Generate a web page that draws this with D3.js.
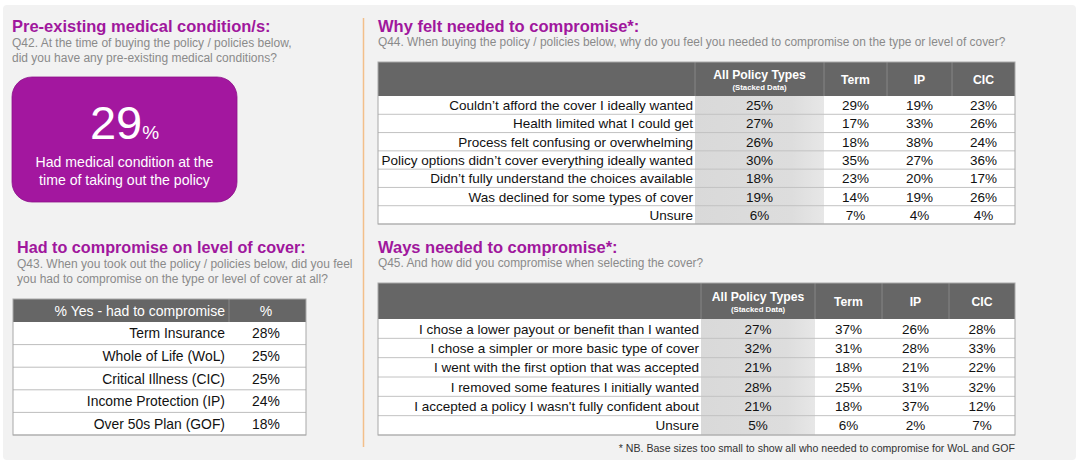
<!DOCTYPE html>
<html lang="en">
<head>
    <meta charset="UTF-8">
    <title>Compromise on cover</title>
    <script src="https://d3js.org/d3.v7.min.js"></script>
    <style>
        body { margin: 0; background: white; }
        svg { display: block; font-family: "Liberation Sans", Arial, sans-serif; }
        .title { fill: #a0179d; font-weight: bold; }
        .sub { fill: #8a8a8a; }
    </style>
</head>
<body>
<svg width="1080" height="466"></svg>
<script>
    // Q42
    var conditionPct = 29;

    // Q43
    var coverTypes = ["Term Insurance", "Whole of Life (WoL)", "Critical Illness (CIC)", "Income Protection (IP)", "Over 50s Plan (GOF)"];
    var coverPct = [28, 25, 25, 24, 18];

    // column headers for the right tables
    var columns = ["All Policy Types", "Term", "IP", "CIC"];

    // Q44
    var whyReasons = [
        "Couldn\u2019t afford the cover I ideally wanted",
        "Health limited what I could get",
        "Process felt confusing or overwhelming",
        "Policy options didn\u2019t cover everything ideally wanted",
        "Didn\u2019t fully understand the choices available",
        "Was declined for some types of cover",
        "Unsure"
    ];
    var whyAll  = [25, 27, 26, 30, 18, 19, 6];
    var whyTerm = [29, 17, 18, 35, 23, 14, 7];
    var whyIP   = [19, 33, 38, 27, 20, 19, 4];
    var whyCIC  = [23, 26, 24, 36, 17, 26, 4];

    // Q45
    var waysReasons = [
        "I chose a lower payout or benefit than I wanted",
        "I chose a simpler or more basic type of cover",
        "I went with the first option that was accepted",
        "I removed some features I initially wanted",
        "I accepted a policy I wasn't fully confident about",
        "Unsure"
    ];
    var waysAll  = [27, 32, 21, 28, 21, 5];
    var waysTerm = [37, 31, 18, 25, 18, 6];
    var waysIP   = [26, 28, 21, 31, 37, 2];
    var waysCIC  = [28, 33, 22, 32, 12, 7];

    var svg = d3.select("svg");
    var pct = function(v) { return v + "%"; };

    var defs = svg.append("defs");
    var grad = defs.append("linearGradient").attr("id", "shade").attr("x1", "0").attr("x2", "1");
    grad.append("stop").attr("offset", "0%").attr("stop-color", "#d9d9d9");
    grad.append("stop").attr("offset", "75%").attr("stop-color", "#dddddd");
    grad.append("stop").attr("offset", "100%").attr("stop-color", "#e7e7e7");

    // background panel
    svg.append("rect").attr("x", 3).attr("y", 5).attr("width", 1073).attr("height", 455)
        .attr("rx", 4).attr("fill", "#f2f2f2");
    svg.append("line").attr("x1", 363.5).attr("x2", 363.5).attr("y1", 18).attr("y2", 447)
        .attr("stroke", "#f3bf8a").attr("stroke-width", 1.5);

    function heading(x, y, title, tsize, lines, ssize, gap) {
        svg.append("text").attr("class", "title").attr("x", x).attr("y", y)
            .attr("font-size", tsize).text(title);
        lines.forEach(function(l, i) {
            svg.append("text").attr("class", "sub").attr("x", x).attr("y", y + gap + i * 14.5)
                .attr("font-size", ssize).text(l);
        });
    }

    // ---------- Q42 ----------
    heading(12, 32, "Pre-existing medical condition/s:", 16.5,
        ["Q42. At the time of buying the policy / policies below,",
         "did you have any pre-existing medical conditions?"], 12, 15);

    svg.append("rect").attr("x", 12).attr("y", 77).attr("width", 225).attr("height", 125)
        .attr("rx", 20).attr("fill", "#a3179f").attr("stroke", "#8d1389").attr("stroke-width", 0.8);
    var big = svg.append("text").attr("x", 124.5).attr("y", 139)
        .attr("text-anchor", "middle").attr("fill", "white");
    big.append("tspan").attr("font-size", 47).text(conditionPct);
    big.append("tspan").attr("font-size", 19).text("%");
    ["Had medical condition at the", "time of taking out the policy"].forEach(function(l, i) {
        svg.append("text").attr("x", 124.5).attr("y", 167 + i * 18)
            .attr("text-anchor", "middle").attr("fill", "white").attr("font-size", 14.1).text(l);
    });

    // ---------- Q43 ----------
    heading(17, 253, "Had to compromise on level of cover:", 16.2,
        ["Q43. When you took out the policy / policies below, did you feel",
         "you had to compromise on the type or level of cover at all?"], 12, 15);

    var lt = { x0: 13, x1: 306, split: 229, top: 299, head: 23, bottom: 435 };
    var ly = d3.scaleBand().domain(coverTypes).range([lt.top + lt.head, lt.bottom]);
    var lg = svg.append("g");
    lg.append("rect").attr("x", lt.x0).attr("y", lt.top).attr("width", lt.x1 - lt.x0).attr("height", lt.head)
        .attr("fill", "#666");
    lg.append("rect").attr("x", lt.x0).attr("y", lt.top + lt.head).attr("width", lt.x1 - lt.x0)
        .attr("height", lt.bottom - lt.top - lt.head).attr("fill", "white");
    lg.append("text").attr("x", lt.split - 4).attr("y", lt.top + 16.5).attr("text-anchor", "end")
        .attr("fill", "white").attr("font-size", 14).text("% Yes - had to compromise");
    lg.append("text").attr("x", 266).attr("y", lt.top + 16.5).attr("text-anchor", "middle")
        .attr("fill", "white").attr("font-size", 14).text("%");
    lg.append("line").attr("x1", lt.split).attr("x2", lt.split).attr("y1", lt.top).attr("y2", lt.top + lt.head)
        .attr("stroke", "#888");
    lg.selectAll(".lrow").data(coverTypes).enter().append("line")
        .attr("x1", lt.x0).attr("x2", lt.x1)
        .attr("y1", function(d) { return ly(d) + ly.bandwidth(); })
        .attr("y2", function(d) { return ly(d) + ly.bandwidth(); })
        .attr("stroke", "#bdbdbd");
    lg.selectAll(".llab").data(coverTypes).enter().append("text")
        .attr("x", lt.split - 4).attr("y", function(d) { return ly(d) + ly.bandwidth() / 2 + 5; })
        .attr("text-anchor", "end").attr("font-size", 13.9).attr("fill", "#111").text(function(d) { return d; });
    lg.selectAll(".lval").data(coverPct).enter().append("text")
        .attr("x", 266).attr("y", function(d, i) { return ly(coverTypes[i]) + ly.bandwidth() / 2 + 5; })
        .attr("text-anchor", "middle").attr("font-size", 13.9).attr("fill", "#111").text(pct);
    lg.append("rect").attr("x", lt.x0).attr("y", lt.top).attr("width", lt.x1 - lt.x0).attr("height", lt.bottom - lt.top)
        .attr("fill", "none").attr("stroke", "#a8a8a8");

    // ---------- right tables ----------
    function bigTable(rows, series, edges, top, head, bottom) {
        var g = svg.append("g");
        var y = d3.scaleBand().domain(rows).range([top + head, bottom]);
        var x0 = d3.scaleOrdinal().domain(columns).range(edges.slice(1, 5));
        var x1 = d3.scaleOrdinal().domain(columns).range(edges.slice(2, 6));
        var cx = function(c) { return (x0(c) + x1(c)) / 2; };
        var left = edges[0], right = edges[5], split = edges[1];

        g.append("rect").attr("x", left).attr("y", top).attr("width", right - left).attr("height", head).attr("fill", "#666");
        g.append("rect").attr("x", left).attr("y", top + head).attr("width", right - left)
            .attr("height", bottom - top - head).attr("fill", "white");
        g.append("rect").attr("x", x0(columns[0])).attr("y", top + head)
            .attr("width", x1(columns[0]) - x0(columns[0])).attr("height", bottom - top - head).attr("fill", "url(#shade)");

        g.selectAll(".sep").data(columns).enter().append("line")
            .attr("x1", function(c) { return x0(c); }).attr("x2", function(c) { return x0(c); })
            .attr("y1", top).attr("y2", top + head).attr("stroke", "#858585");

        g.selectAll(".hd").data(columns).enter().append("text")
            .attr("x", cx).attr("y", function(c, i) { return top + head / 2 + (i === 0 ? 0 : 4.5); })
            .attr("text-anchor", "middle").attr("fill", "white").attr("font-weight", "bold")
            .attr("font-size", 12.2).text(function(c) { return c; });
        g.append("text").attr("x", cx(columns[0])).attr("y", top + head / 2 + 11)
            .attr("text-anchor", "middle").attr("fill", "white").attr("font-weight", "bold")
            .attr("font-size", 7.8).text("(Stacked Data)");

        g.selectAll(".rl").data(rows).enter().append("line")
            .attr("x1", left).attr("x2", right)
            .attr("y1", function(d) { return y(d) + y.bandwidth(); })
            .attr("y2", function(d) { return y(d) + y.bandwidth(); })
            .attr("stroke", "#c2c2c2");

        g.selectAll(".lab").data(rows).enter().append("text")
            .attr("x", split - 2).attr("y", function(d) { return y(d) + y.bandwidth() / 2 + 5; })
            .attr("text-anchor", "end").attr("font-size", 13.5).attr("fill", "#111").text(function(d) { return d; });

        columns.forEach(function(c, ci) {
            g.selectAll(".v" + ci).data(series[ci]).enter().append("text")
                .attr("x", cx(c)).attr("y", function(d, i) { return y(rows[i]) + y.bandwidth() / 2 + 5; })
                .attr("text-anchor", "middle").attr("font-size", 13.5).attr("fill", "#111").text(pct);
        });

        g.append("rect").attr("x", left).attr("y", top).attr("width", right - left).attr("height", bottom - top)
            .attr("fill", "none").attr("stroke", "#a8a8a8");
    }

    heading(378, 32, "Why felt needed to compromise*:", 16.5,
        ["Q44. When buying the policy / policies below, why do you feel you needed to compromise on the type or level of cover?"], 11.9, 14);
    bigTable(whyReasons, [whyAll, whyTerm, whyIP, whyCIC], [378, 695, 824, 887, 952, 1015], 62, 34, 224);

    heading(378, 253, "Ways needed to compromise*:", 16.5,
        ["Q45. And how did you compromise when selecting the cover?"], 11.9, 14);
    bigTable(waysReasons, [waysAll, waysTerm, waysIP, waysCIC], [378, 701, 815, 882, 949, 1015], 283, 36, 435);

    svg.append("text").attr("x", 1015).attr("y", 452).attr("text-anchor", "end")
        .attr("font-size", 10.6).attr("fill", "#333")
        .text("* NB. Base sizes too small to show all who needed to compromise for WoL and GOF");
</script>
</body>
</html>
